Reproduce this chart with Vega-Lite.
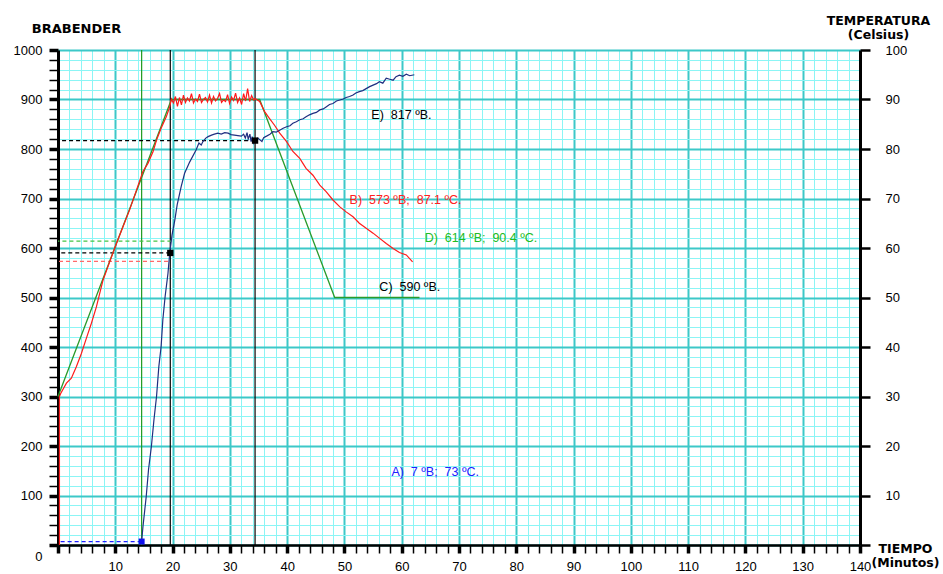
{
  "$schema": "https://vega.github.io/schema/vega-lite/v6.json",
  "width": 802,
  "height": 495,
  "autosize": "none",
  "padding": {"left": 58, "top": 50, "right": 83, "bottom": 29},
  "background": "#ffffff",
  "config": {
    "view": {"stroke": null},
    "axis": {"domainColor": "#000000", "tickColor": "#000000", "labelColor": "#000000", "titleColor": "#000000"}
  },
  "datasets": {
    "visc": [
      {"t": 14.6, "v": 7}, {"t": 14.83, "v": 37}, {"t": 15.4, "v": 98}, {"t": 15.8, "v": 152}, {"t": 16.3, "v": 199},
      {"t": 16.75, "v": 253}, {"t": 17.2, "v": 300}, {"t": 17.6, "v": 360}, {"t": 18.0, "v": 401}, {"t": 18.3, "v": 455},
      {"t": 18.7, "v": 502}, {"t": 19.2, "v": 549}, {"t": 19.5, "v": 589}, {"t": 19.9, "v": 626}, {"t": 20.4, "v": 657},
      {"t": 20.8, "v": 687}, {"t": 21.5, "v": 724}, {"t": 22.1, "v": 751}, {"t": 23.0, "v": 774}, {"t": 24.1, "v": 798},
      {"t": 24.6, "v": 812}, {"t": 25.0, "v": 808}, {"t": 25.3, "v": 815}, {"t": 25.8, "v": 822}, {"t": 26.2, "v": 825},
      {"t": 26.8, "v": 828}, {"t": 27.3, "v": 830}, {"t": 27.9, "v": 832}, {"t": 28.5, "v": 830}, {"t": 29.1, "v": 833},
      {"t": 29.7, "v": 832}, {"t": 30.2, "v": 829}, {"t": 30.8, "v": 828}, {"t": 31.4, "v": 827}, {"t": 32.0, "v": 826},
      {"t": 32.4, "v": 830}, {"t": 32.7, "v": 822}, {"t": 33.0, "v": 833}, {"t": 33.2, "v": 820}, {"t": 33.5, "v": 830},
      {"t": 33.7, "v": 815}, {"t": 33.9, "v": 825}, {"t": 34.1, "v": 812}, {"t": 34.3, "v": 817}, {"t": 34.6, "v": 814},
      {"t": 34.9, "v": 822}, {"t": 35.2, "v": 819}, {"t": 35.6, "v": 815}, {"t": 35.9, "v": 823}, {"t": 36.4, "v": 826},
      {"t": 37.0, "v": 830}, {"t": 37.5, "v": 835}, {"t": 38.1, "v": 834}, {"t": 38.7, "v": 838}, {"t": 39.3, "v": 842},
      {"t": 39.9, "v": 845}, {"t": 40.5, "v": 847}, {"t": 41.0, "v": 852}, {"t": 41.6, "v": 855}, {"t": 42.2, "v": 859},
      {"t": 42.8, "v": 861}, {"t": 43.3, "v": 865}, {"t": 43.9, "v": 869}, {"t": 44.5, "v": 872}, {"t": 45.1, "v": 874},
      {"t": 45.7, "v": 879}, {"t": 46.3, "v": 881}, {"t": 46.8, "v": 885}, {"t": 47.4, "v": 890}, {"t": 48.0, "v": 892},
      {"t": 48.6, "v": 897}, {"t": 49.2, "v": 899}, {"t": 49.8, "v": 901}, {"t": 50.3, "v": 904}, {"t": 50.9, "v": 906},
      {"t": 51.5, "v": 909}, {"t": 52.0, "v": 913}, {"t": 52.6, "v": 916}, {"t": 53.2, "v": 918}, {"t": 53.8, "v": 922},
      {"t": 54.4, "v": 926}, {"t": 55.0, "v": 929}, {"t": 55.6, "v": 932}, {"t": 56.1, "v": 936}, {"t": 56.7, "v": 933},
      {"t": 57.3, "v": 943}, {"t": 57.9, "v": 941}, {"t": 58.5, "v": 939}, {"t": 59.0, "v": 946}, {"t": 59.6, "v": 949},
      {"t": 60.2, "v": 947}, {"t": 60.8, "v": 951}, {"t": 61.4, "v": 948}, {"t": 62.2, "v": 950}
    ],
    "temp": [
      {"t": 0.25, "v": 0}, {"t": 0.25, "v": 300}, {"t": 0.47, "v": 306}, {"t": 1.47, "v": 327}, {"t": 2.33, "v": 337},
      {"t": 3.2, "v": 360}, {"t": 4.08, "v": 387}, {"t": 4.96, "v": 418}, {"t": 5.83, "v": 448}, {"t": 6.7, "v": 481},
      {"t": 7.86, "v": 535}, {"t": 9.02, "v": 572}, {"t": 10.2, "v": 609}, {"t": 11.34, "v": 643}, {"t": 12.5, "v": 677},
      {"t": 13.7, "v": 717}, {"t": 14.8, "v": 754}, {"t": 15.7, "v": 771}, {"t": 16.6, "v": 795}, {"t": 17.2, "v": 818},
      {"t": 18.0, "v": 842}, {"t": 18.9, "v": 865}, {"t": 19.5, "v": 885},
      {"t": 19.8, "v": 901}, {"t": 20.15, "v": 893}, {"t": 20.5, "v": 906}, {"t": 20.85, "v": 886}, {"t": 21.2, "v": 904},
      {"t": 21.55, "v": 889}, {"t": 21.9, "v": 909}, {"t": 22.25, "v": 894}, {"t": 22.6, "v": 903}, {"t": 22.95, "v": 897},
      {"t": 23.3, "v": 912}, {"t": 23.65, "v": 893}, {"t": 24.0, "v": 901}, {"t": 24.35, "v": 896}, {"t": 24.7, "v": 911},
      {"t": 25.05, "v": 894}, {"t": 25.4, "v": 900}, {"t": 25.75, "v": 904}, {"t": 26.1, "v": 895}, {"t": 26.45, "v": 909},
      {"t": 26.8, "v": 893}, {"t": 27.15, "v": 906}, {"t": 27.5, "v": 897}, {"t": 27.85, "v": 902}, {"t": 28.2, "v": 912},
      {"t": 28.55, "v": 894}, {"t": 28.9, "v": 899}, {"t": 29.25, "v": 896}, {"t": 29.6, "v": 910}, {"t": 29.95, "v": 892},
      {"t": 30.3, "v": 905}, {"t": 30.65, "v": 898}, {"t": 31.0, "v": 913}, {"t": 31.35, "v": 894}, {"t": 31.7, "v": 903},
      {"t": 32.05, "v": 890}, {"t": 32.4, "v": 912}, {"t": 32.75, "v": 897}, {"t": 33.1, "v": 922}, {"t": 33.45, "v": 896},
      {"t": 33.8, "v": 908}, {"t": 34.15, "v": 899}, {"t": 34.4, "v": 902},
      {"t": 35.2, "v": 896}, {"t": 36.1, "v": 875}, {"t": 36.9, "v": 862}, {"t": 37.8, "v": 848}, {"t": 38.7, "v": 832},
      {"t": 39.9, "v": 815}, {"t": 41.0, "v": 795}, {"t": 42.2, "v": 781}, {"t": 43.3, "v": 761}, {"t": 44.5, "v": 747},
      {"t": 45.7, "v": 727}, {"t": 46.8, "v": 714}, {"t": 48.0, "v": 697}, {"t": 49.2, "v": 683}, {"t": 50.3, "v": 673},
      {"t": 51.5, "v": 663}, {"t": 52.6, "v": 650}, {"t": 53.8, "v": 640}, {"t": 55.0, "v": 630}, {"t": 56.1, "v": 620},
      {"t": 57.3, "v": 609}, {"t": 58.5, "v": 599}, {"t": 59.6, "v": 591}, {"t": 60.8, "v": 586}, {"t": 61.9, "v": 572}
    ],
    "prog": [
      {"t": 0, "v": 300}, {"t": 19.8, "v": 900}, {"t": 35.2, "v": 900}, {"t": 48.3, "v": 500}, {"t": 63.1, "v": 500}
    ],
    "refs": [
      {"c": "A", "v": 7, "t2": 14.6},
      {"c": "B", "v": 573, "t2": 19.2},
      {"c": "C", "v": 590, "t2": 19.6},
      {"c": "D", "v": 614, "t2": 19.8},
      {"c": "E", "v": 817, "t2": 34.4}
    ],
    "notes": [
      {"c": "A", "t": 58.2, "v": 148, "label": "A)\u00a0 7 ºB;\u00a0 73 ºC."},
      {"c": "B", "t": 50.9, "v": 697, "label": "B)\u00a0 573 ºB;\u00a0 87.1 ºC."},
      {"c": "C", "t": 56.1, "v": 521, "label": "C)\u00a0 590 ºB."},
      {"c": "D", "t": 64.0, "v": 620, "label": "D)\u00a0 614 ºB;\u00a0 90.4 ºC."},
      {"c": "E", "t": 54.7, "v": 869, "label": "E)\u00a0 817 ºB."}
    ]
  },
  "layer": [
    {
      "data": {"name": "visc"},
      "mark": {"type": "line", "color": "#1f2f80", "strokeWidth": 1.2, "opacity": 0},
      "encoding": {
        "x": {
          "field": "t", "type": "quantitative",
          "scale": {"domain": [0, 140], "nice": false, "zero": false},
          "axis": {
            "orient": "bottom",
            "values": [0,2,4,6,8,10,12,14,16,18,20,22,24,26,28,30,32,34,36,38,40,42,44,46,48,50,52,54,56,58,60,62,64,66,68,70,72,74,76,78,80,82,84,86,88,90,92,94,96,98,100,102,104,106,108,110,112,114,116,118,120,122,124,126,128,130,132,134,136,138,140],
            "grid": true,
            "gridColor": {"condition": {"test": "datum.value % 10 === 0", "value": "#3cc8c8"}, "value": "#8cf5f5"},
            "gridWidth": {"condition": {"test": "datum.value % 10 === 0", "value": 2}, "value": 1},
            "tickSize": 8,
            "tickWidth": {"condition": {"test": "datum.value % 10 === 0", "value": 3.5}, "value": 1.5},
            "labelExpr": "datum.value > 0 && datum.value % 10 === 0 ? datum.label : ''",
            "labelFont": "Liberation Sans", "labelFontSize": 13, "labelPadding": 7,
            "labelFlush": false, "labelOverlap": false, "labelBound": false,
            "domainWidth": 2.5,
            "title": ["TIEMPO", "(Minutos)"],
            "titleX": 847, "titleY": 7, "titleAlign": "center", "titleBaseline": "alphabetic",
            "titleFont": "DejaVu Sans", "titleFontSize": 12.5, "titleFontWeight": "bold", "titleLineHeight": 14
          }
        },
        "y": {
          "field": "v", "type": "quantitative",
          "scale": {"domain": [0, 1000], "nice": false, "zero": false},
          "axis": {
            "orient": "left",
            "values": [0,20,40,60,80,100,120,140,160,180,200,220,240,260,280,300,320,340,360,380,400,420,440,460,480,500,520,540,560,580,600,620,640,660,680,700,720,740,760,780,800,820,840,860,880,900,920,940,960,980,1000],
            "format": "d",
            "grid": true,
            "gridColor": {"condition": {"test": "datum.value % 100 === 0", "value": "#3cc8c8"}, "value": "#8cf5f5"},
            "gridWidth": {"condition": {"test": "datum.value % 100 === 0", "value": 2}, "value": 1},
            "tickSize": 9,
            "tickWidth": {"condition": {"test": "datum.value % 100 === 0", "value": 3.5}, "value": 1.5},
            "labelExpr": "datum.value % 100 === 0 ? datum.label : ''",
            "labelOffset": {"condition": {"test": "datum.value === 0", "value": 11}, "value": 0},
            "labelPadding": 7,
            "labelFont": "Liberation Sans", "labelFontSize": 13,
            "labelFlush": false, "labelOverlap": false, "labelBound": false,
            "domainWidth": 3,
            "title": "BRABENDER",
            "titleAngle": 0, "titleX": 18, "titleY": -18, "titleAlign": "center", "titleBaseline": "alphabetic",
            "titleFont": "DejaVu Sans", "titleFontSize": 13, "titleFontWeight": "bold"
          }
        }
      }
    },
    {
      "data": {"values": [{"t": 14.6}]},
      "mark": {"type": "rule", "color": "#1f9a1f", "strokeWidth": 1.2},
      "encoding": {"x": {"field": "t", "type": "quantitative", "axis": null}}
    },
    {
      "data": {"values": [{"t": 19.6}, {"t": 34.4}]},
      "mark": {"type": "rule", "color": "#000000", "strokeWidth": 1.2},
      "encoding": {"x": {"field": "t", "type": "quantitative", "axis": null}}
    },
    {
      "data": {"name": "refs"},
      "mark": {"type": "rule", "strokeDash": [4, 3], "strokeWidth": 1.2},
      "encoding": {
        "x": {"field": "t2", "type": "quantitative", "axis": null},
        "x2": {"datum": 0},
        "y": {"field": "v", "type": "quantitative", "axis": null},
        "color": {"field": "c", "type": "nominal", "legend": null,
          "scale": {"domain": ["A", "B", "C", "D", "E"], "range": ["#2020ff", "#ff6a6a", "#000000", "#44c444", "#000000"]}}
      }
    },
    {
      "data": {"name": "prog"},
      "mark": {"type": "line", "color": "#2a9a2a", "strokeWidth": 1.3},
      "encoding": {
        "x": {"field": "t", "type": "quantitative", "axis": null},
        "y": {"field": "v", "type": "quantitative", "axis": null}
      }
    },
    {
      "data": {"name": "temp"},
      "mark": {"type": "line", "color": "#ff1a1a", "strokeWidth": 1.2},
      "encoding": {
        "x": {"field": "t", "type": "quantitative", "axis": null},
        "y": {
          "field": "v", "type": "quantitative",
          "axis": {
            "orient": "right",
            "values": [0,100,200,300,400,500,600,700,800,900,1000],
            "grid": false,
            "tickSize": 10, "tickWidth": 2.5,
            "labelExpr": "datum.value > 0 ? format(datum.value / 10, 'd') : ''",
            "labelFont": "Liberation Sans", "labelFontSize": 13, "labelPadding": 15, "labelAlign": "left",
            "labelFlush": false, "labelOverlap": false, "labelBound": false,
            "domainWidth": 3,
            "title": ["TEMPERATURA", "(Celsius)"],
            "titleAngle": 0, "titleX": 18, "titleY": -26, "titleAlign": "center", "titleBaseline": "alphabetic",
            "titleFont": "DejaVu Sans", "titleFontSize": 12.5, "titleFontWeight": "bold", "titleLineHeight": 14
          }
        }
      }
    },
    {
      "data": {"name": "visc"},
      "mark": {"type": "line", "color": "#1f2f80", "strokeWidth": 1.2},
      "encoding": {
        "x": {"field": "t", "type": "quantitative", "axis": null},
        "y": {"field": "v", "type": "quantitative", "axis": null}
      }
    },
    {
      "data": {"values": [{"t": 14.6, "v": 7}]},
      "mark": {"type": "square", "filled": true, "color": "#1010ee", "size": 36, "opacity": 1},
      "encoding": {
        "x": {"field": "t", "type": "quantitative", "axis": null},
        "y": {"field": "v", "type": "quantitative", "axis": null}
      }
    },
    {
      "data": {"values": [{"t": 19.6, "v": 590}, {"t": 34.4, "v": 817}]},
      "mark": {"type": "square", "filled": true, "color": "#000000", "size": 40, "opacity": 1},
      "encoding": {
        "x": {"field": "t", "type": "quantitative", "axis": null},
        "y": {"field": "v", "type": "quantitative", "axis": null}
      }
    },
    {
      "data": {"name": "notes"},
      "mark": {"type": "text", "align": "left", "baseline": "middle", "font": "Liberation Sans", "fontSize": 12.5},
      "encoding": {
        "x": {"field": "t", "type": "quantitative", "axis": null},
        "y": {"field": "v", "type": "quantitative", "axis": null},
        "text": {"field": "label"},
        "color": {"field": "c", "type": "nominal", "legend": null,
          "scale": {"domain": ["A", "B", "C", "D", "E"], "range": ["#2020ff", "#ff2020", "#000000", "#22bb22", "#000000"]}}
      }
    }
  ],
  "resolve": {"axis": {"x": "independent", "y": "independent"}, "scale": {"color": "independent"}}
}
